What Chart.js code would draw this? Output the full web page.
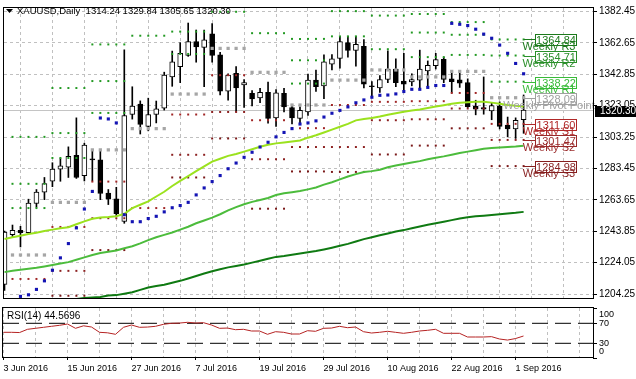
<!DOCTYPE html>
<html>
<head>
<meta charset="utf-8">
<script src="https://cdn.jsdelivr.net/npm/chart.js@4.4.1/dist/chart.umd.min.js"></script>
<style>
  html, body { margin: 0; padding: 0; background: #fff; }
  #wrap { position: relative; width: 636px; height: 379px; overflow: hidden; background: #fff; }
  canvas { position: absolute; left: 0; }
  #priceChart { top: 0; width: 636px; height: 306px; }
  #rsiChart { top: 306px; width: 636px; height: 73px; }
</style>
</head>
<body>
<div id="wrap">
  <canvas id="priceChart" width="636" height="306"></canvas>
  <canvas id="rsiChart" width="636" height="73"></canvas>
</div>
<script>
// XAUUSD daily bars, 3 Jun 2016 .. 2 Sep 2016 (one entry per trading day)
const opens = [1210.4, 1241.8, 1244.4, 1243.0, 1261.4, 1268.6, 1275.4, 1283.1, 1284.3, 1291.7,
  1279.0, 1289.2, 1288.9, 1267.9, 1264.4, 1250.1, 1317.5, 1324.1, 1310.0, 1317.5,
  1321.5, 1341.2, 1347.7, 1354.7, 1363.5, 1359.8, 1368.4, 1355.1, 1332.3, 1343.4,
  1336.2, 1330.9, 1327.9, 1331.5, 1315.4, 1330.9, 1321.9, 1315.1, 1319.1, 1339.2,
  1335.6, 1349.2, 1352.9, 1362.8, 1357.9, 1360.5, 1335.4, 1334.2, 1339.6, 1346.2,
  1338.6, 1338.0, 1339.2, 1345.0, 1348.3, 1352.3, 1340.0, 1339.4, 1337.6, 1322.9,
  1321.9, 1319.7, 1322.9, 1310.8, 1308.4, 1314.24];
const highs = [1244.0, 1247.8, 1247.0, 1264.1, 1270.2, 1277.8, 1287.1, 1289.7, 1297.1, 1315.4,
  1299.4, 1295.3, 1294.3, 1270.2, 1271.6, 1358.3, 1335.0, 1326.1, 1327.8, 1326.0,
  1344.2, 1357.5, 1362.8, 1375.2, 1370.8, 1370.8, 1374.8, 1356.7, 1343.2, 1347.7,
  1339.6, 1332.6, 1334.0, 1338.0, 1333.2, 1334.0, 1323.1, 1322.3, 1343.0, 1345.6,
  1355.1, 1355.3, 1366.8, 1366.8, 1366.8, 1364.8, 1338.2, 1342.0, 1357.7, 1352.7,
  1356.1, 1343.2, 1358.1, 1351.3, 1356.1, 1353.7, 1344.6, 1344.2, 1340.0, 1326.5,
  1341.2, 1325.0, 1325.5, 1315.9, 1315.4, 1329.84];
const lows = [1206.6, 1240.0, 1234.0, 1242.5, 1259.1, 1263.8, 1272.0, 1275.4, 1277.8, 1277.2,
  1275.6, 1275.6, 1263.8, 1260.7, 1253.1, 1248.9, 1314.6, 1305.2, 1307.2, 1312.2,
  1320.3, 1335.3, 1337.6, 1354.2, 1350.5, 1335.0, 1350.5, 1329.9, 1326.5, 1319.5,
  1321.9, 1322.9, 1325.0, 1312.1, 1310.0, 1319.1, 1311.5, 1312.1, 1316.9, 1332.0,
  1327.5, 1345.6, 1346.8, 1353.7, 1348.0, 1334.2, 1329.0, 1331.5, 1337.6, 1335.0,
  1332.0, 1335.6, 1334.0, 1334.6, 1346.2, 1337.6, 1331.1, 1334.6, 1321.9, 1317.3,
  1317.7, 1314.2, 1308.4, 1303.4, 1302.4, 1305.65];
const closes = [1243.4, 1244.4, 1243.0, 1261.7, 1268.6, 1274.0, 1283.1, 1285.1, 1291.1, 1277.8,
  1298.3, 1288.9, 1267.7, 1264.1, 1254.9, 1316.9, 1322.9, 1311.2, 1317.5, 1321.1,
  1342.4, 1350.7, 1356.1, 1363.5, 1360.1, 1364.6, 1354.7, 1332.3, 1342.4, 1334.2,
  1337.6, 1327.3, 1331.5, 1315.1, 1331.1, 1322.3, 1315.4, 1320.1, 1339.2, 1335.0,
  1350.7, 1352.7, 1363.5, 1357.9, 1361.7, 1336.6, 1335.0, 1339.6, 1346.1, 1337.6,
  1336.6, 1339.6, 1346.1, 1348.5, 1352.1, 1339.6, 1338.2, 1337.2, 1322.5, 1320.9,
  1320.9, 1323.1, 1310.0, 1308.4, 1313.8, 1320.30];

// moving averages
const maFast = [1239.0, 1240.1, 1241.1, 1242.2, 1243.0, 1244.0, 1244.9, 1245.8, 1246.4, 1248.3,
  1250.1, 1251.7, 1252.5, 1252.8, 1253.4, 1254.9, 1258.5, 1260.6, 1262.7, 1265.8,
  1268.8, 1272.4, 1275.7, 1278.7, 1281.8, 1284.8, 1287.8, 1289.6, 1291.4, 1292.6,
  1294.1, 1295.6, 1297.2, 1298.4, 1299.3, 1299.9, 1300.5, 1301.1, 1302.9, 1304.4,
  1306.2, 1308.0, 1309.8, 1311.6, 1313.8, 1314.7, 1315.3, 1316.2, 1317.4, 1318.3,
  1319.2, 1320.1, 1320.7, 1321.6, 1322.5, 1323.4, 1324.3, 1324.9, 1325.2, 1325.5,
  1325.5, 1325.0, 1324.3, 1323.5, 1323.1, 1322.5];
const maMid = [1218.1, 1219.0, 1219.6, 1220.2, 1220.8, 1221.7, 1222.6, 1223.5, 1224.4, 1225.9,
  1227.4, 1228.9, 1230.1, 1230.9, 1231.7, 1233.2, 1234.4, 1236.2, 1238.3, 1240.1,
  1241.6, 1243.1, 1244.9, 1246.7, 1248.9, 1250.7, 1252.5, 1254.6, 1257.0, 1259.1,
  1260.9, 1262.4, 1263.6, 1264.9, 1266.7, 1267.9, 1268.5, 1269.2, 1270.3, 1271.5,
  1273.3, 1274.8, 1276.6, 1278.4, 1279.9, 1281.2, 1281.8, 1282.7, 1284.2, 1285.4,
  1286.3, 1287.2, 1288.1, 1289.3, 1290.3, 1291.1, 1292.1, 1293.2, 1294.1, 1295.0,
  1295.9, 1296.4, 1296.7, 1297.0, 1297.3, 1297.8];
const maSlow = [1191.5, 1192.7, 1193.9, 1195.1, 1196.3, 1197.5, 1198.7, 1199.7, 1200.6, 1201.2,
  1201.8, 1202.1, 1202.4, 1203.3, 1203.6, 1204.5, 1205.4, 1206.9, 1208.4, 1209.3,
  1210.2, 1211.4, 1212.6, 1214.1, 1215.7, 1217.2, 1218.7, 1219.9, 1221.1, 1222.0,
  1222.9, 1224.1, 1225.3, 1226.5, 1227.7, 1228.3, 1229.1, 1229.8, 1230.6, 1231.4,
  1232.4, 1233.5, 1234.7, 1235.9, 1237.4, 1238.9, 1240.1, 1241.3, 1242.5, 1243.7,
  1244.6, 1245.8, 1246.9, 1248.0, 1248.9, 1249.9, 1250.9, 1251.9, 1252.7, 1253.3,
  1253.7, 1254.2, 1254.6, 1255.1, 1255.5, 1256.1];

// parabolic SAR
const sar = [null, null, 1202.8, 1203.8, 1207.2, 1212.6, 1219.3, 1227.1, 1236.1, 1246.0,
  1257.9, 1269.0, 1315.3, 1314.7, 1312.2, 1254.3, 1249.9, 1249.9, 1251.9, 1253.3,
  1256.1, 1258.7, 1260.1, 1262.1, 1266.8, 1271.2, 1275.2, 1279.0, 1283.3, 1286.9,
  1290.5, 1293.7, 1297.0, 1300.0, 1303.4, 1306.2, 1308.6, 1311.5, 1312.2, 1313.5,
  1315.9, 1318.3, 1320.1, 1322.3, 1324.9, 1326.7, 1328.4, 1329.6, 1329.8, 1330.5,
  1332.0, 1333.4, 1333.4, 1334.6, 1335.8, 1335.8, 1375.0, 1374.4, 1373.6, 1371.3,
  1368.2, 1365.6, 1361.3, 1356.1, 1349.7, 1343.2];

// RSI(14)
const rsi = [52, 52, 51.5, 58, 60, 62, 64, 66, 68.6, 60,
  65, 62.6, 52, 51, 48, 62, 66.6, 62, 62.5, 64,
  68, 70, 70.5, 72, 70.6, 71.2, 66.6, 60, 60.5, 57.2,
  58, 54.6, 54.6, 48, 53.2, 52, 48.6, 48.6, 55.2, 54,
  60, 60.5, 64, 61.2, 62.6, 53.2, 50.6, 52, 54, 52,
  50, 52, 54.6, 56, 58, 50, 50, 50, 42.6, 42.6,
  42.6, 43.3, 38.6, 36.5, 39.5, 44.5696];
const rsiLevels = [70, 30];
const rsiAxisLabels = [100, 70, 30, 0];

// weekly pivot levels, one value per week (first bar of each week in weekStarts)
const weekStarts = [1, 6, 11, 16, 21, 26, 31, 36, 41, 46, 51, 56, 61];
const pivotPP = [1228.9, 1262.1, 1295.2, 1308.6, 1330.4, 1359.2, 1344.1, 1323.5, 1339.2, 1345.6, 1341.2, 1344.7, 1328.09];
const pivotR1 = [1258.5, 1290.1, 1318.5, 1367.2, 1355.7, 1382.3, 1368.8, 1337.0, 1366.8, 1358.7, 1353.7, 1355.1, 1338.22];
const pivotR2 = [1273.8, 1305.8, 1338.6, null, 1369.8, null, null, 1351.7, 1382.7, 1379.9, 1369.2, 1367.8, 1354.71];
const pivotR3 = [1303.4, 1334.2, 1361.7, null, null, null, null, 1365.2, null, null, 1380.9, 1375.8, 1364.84];
const pivotS1 = [1213.8, 1246.6, 1275.2, 1258.5, 1317.5, 1342.3, 1313.9, 1308.9, 1323.5, 1325.5, 1325.9, 1331.1, 1311.60];
const pivotS2 = [null, 1218.9, 1252.1, null, 1292.1, 1319.1, 1289.3, 1297.0, 1297.0, 1313.9, 1314.5, 1321.3, 1301.47];
const pivotS3 = [null, 1203.2, 1232.0, null, 1277.8, 1302.4, 1258.1, 1281.6, 1281.3, 1292.3, 1297.9, 1308.8, 1284.98];

const priceTicks = [1204.25, 1224.05, 1243.85, 1263.65, 1283.45, 1303.25, 1323.05, 1342.85, 1362.65, 1382.45];
const gridBars = [0, 4, 8, 12, 16, 20, 24, 28, 32, 36, 40, 44, 48, 52, 56, 60, 64, 68, 72];
const dateTickBars = [0, 8, 16, 24, 32, 40, 48, 56, 64];
const dateTickLabels = ["3 Jun 2016", "15 Jun 2016", "27 Jun 2016", "7 Jul 2016", "19 Jul 2016",
  "29 Jul 2016", "10 Aug 2016", "22 Aug 2016", "1 Sep 2016"];

const FONT = "'Liberation Sans', Arial, sans-serif";
Chart.defaults.font.family = FONT;

const xMin = -0.0625, xMax = 73.6875;
const gridColor = "#c0c0c0";
const last = closes.length - 1;

const pivotStyles = [
  { name: "Weekly R3", values: pivotR3, dot: "#229922", label: "#1c7a1c" },
  { name: "Weekly R2", values: pivotR2, dot: "#229922", label: "#2a8f2a" },
  { name: "Weekly R1", values: pivotR1, dot: "#229922", label: "#39bb39" },
  { name: "Weekly Pivot Point", values: pivotPP, dot: "#a6a6a6", label: "#a0a0a0" },
  { name: "Weekly S1", values: pivotS1, dot: "#a02525", label: "#b02828" },
  { name: "Weekly S2", values: pivotS2, dot: "#8c2020", label: "#9a2a2a" },
  { name: "Weekly S3", values: pivotS3, dot: "#7a1818", label: "#861e1e" }
];

function weeklySeries(levels) {
  const pts = [];
  weekStarts.forEach((start, w) => {
    if (levels[w] == null) return;
    for (let i = start; i < start + 5 && i < closes.length; i++) pts.push({ x: i, y: levels[w] });
  });
  return pts;
}

const pivotDatasets = pivotStyles.map(p => ({
  type: "line",
  data: weeklySeries(p.values),
  showLine: false,
  pointStyle: "rect",
  pointRadius: p.name === "Weekly Pivot Point" ? 2.3 : 1.4,
  backgroundColor: p.dot,
  borderColor: p.dot,
  borderWidth: 0,
  order: 5
}));

function maDataset(values, color) {
  return {
    type: "line",
    data: values.map((v, i) => ({ x: i, y: v })),
    borderColor: color,
    borderWidth: 2,
    pointRadius: 0,
    tension: 0,
    order: 3
  };
}

const mainDecor = {
  id: "mainDecor",
  beforeDatasetsDraw(chart) {
    const { ctx, chartArea: a, scales: { y } } = chart;
    const yy = Math.round(y.getPixelForValue(closes[last])) + 0.5;
    ctx.save();
    ctx.strokeStyle = "#c4c4c4";
    ctx.lineWidth = 1;
    ctx.beginPath();
    ctx.moveTo(a.left, yy);
    ctx.lineTo(a.right, yy);
    ctx.stroke();
    ctx.restore();
  },
  afterDatasetsDraw(chart) {
    const { ctx, scales: { x, y } } = chart;
    const lx = Math.round(x.getPixelForValue(last));
    ctx.save();
    pivotStyles.forEach(p => {
      const v = p.values[p.values.length - 1];
      const yy = Math.round(y.getPixelForValue(v)) + 0.5;
      ctx.strokeStyle = p.label;
      ctx.lineWidth = 1;
      ctx.beginPath();
      ctx.moveTo(lx, yy);
      ctx.lineTo(lx + 11, yy);
      ctx.stroke();
      ctx.fillStyle = "#fff";
      ctx.fillRect(lx + 11, yy - 5.5, 42, 11);
      ctx.strokeRect(lx + 11.5, yy - 5, 41, 11);
      ctx.fillStyle = p.label;
      ctx.font = "11px " + FONT;
      ctx.textAlign = "center";
      ctx.textBaseline = "middle";
      ctx.fillText(v.toFixed(2), lx + 32, yy + 1);
      ctx.textBaseline = "alphabetic";
      ctx.fillText(p.name, lx + 25, yy + 10);
    });
    ctx.restore();
  },
  afterDraw(chart) {
    const { ctx, chartArea: a, scales: { y } } = chart;
    ctx.save();
    ctx.strokeStyle = "#000";
    ctx.lineWidth = 1;
    ctx.strokeRect(a.left - 0.5, a.top - 0.5, a.right - a.left + 1, a.bottom - a.top + 1);
    // title
    ctx.fillStyle = "#000";
    ctx.beginPath();
    ctx.moveTo(6, 9);
    ctx.lineTo(13, 9);
    ctx.lineTo(9.5, 13);
    ctx.closePath();
    ctx.fill();
    ctx.font = "9.5px " + FONT;
    ctx.textAlign = "left";
    ctx.textBaseline = "middle";
    ctx.fillText("XAUUSD,Daily  " + [opens[last], highs[last], lows[last], closes[last]].map(v => v.toFixed(2)).join(" "), 17, 11);
    // bid tag
    const yy = Math.round(y.getPixelForValue(closes[last]));
    ctx.fillStyle = "#000";
    ctx.fillRect(595, yy - 4, 41, 11);
    ctx.fillStyle = "#fff";
    ctx.font = "10px " + FONT;
    ctx.fillText(closes[last].toFixed(2), 600, yy + 1.5);
    ctx.restore();
  }
};

new Chart(document.getElementById("priceChart"), {
  type: "bar",
  data: {
    datasets: [
      {
        type: "line",
        data: sar.map((v, i) => ({ x: i, y: v })),
        showLine: false,
        pointStyle: "rect",
        pointRadius: 2.2,
        backgroundColor: "#1414b4",
        borderWidth: 0,
        order: 1
      },
      maDataset(maFast, "#9be21e"),
      maDataset(maMid, "#4cbc3c"),
      maDataset(maSlow, "#0f7a12"),
      ...pivotDatasets,
      {
        type: "bar",
        data: closes.map((c, i) => ({ x: i, y: [opens[i], c] })),
        backgroundColor: closes.map((c, i) => (c >= opens[i] ? "#ffffff" : "#000000")),
        borderColor: "#000",
        borderWidth: 1,
        borderSkipped: false,
        barThickness: 5,
        minBarLength: 1,
        grouped: false,
        order: 10
      },
      {
        type: "bar",
        data: closes.map((c, i) => ({ x: i, y: [lows[i], highs[i]] })),
        backgroundColor: "#000",
        barThickness: 1,
        grouped: false,
        order: 11
      }
    ]
  },
  options: {
    responsive: false,
    animation: false,
    devicePixelRatio: 1,
    events: [],
    layout: { padding: { left: 3, top: 2, right: 0, bottom: 1 } },
    plugins: { legend: { display: false }, tooltip: { enabled: false } },
    scales: {
      x: {
        type: "linear",
        min: xMin,
        max: xMax,
        offset: false,
        afterBuildTicks: s => { s.ticks = gridBars.map(v => ({ value: v })); },
        afterFit: s => { s.height = 0; },
        ticks: { display: false },
        grid: { color: gridColor, drawTicks: false },
        border: { display: false, dash: [3, 3] }
      },
      y: {
        position: "right",
        min: 1201.78,
        max: 1384.68,
        afterBuildTicks: s => { s.ticks = priceTicks.map(v => ({ value: v })); },
        afterFit: s => { s.width = 43; },
        ticks: { color: "#000", font: { size: 10 }, padding: 2, autoSkip: false, callback: v => v.toFixed(2) },
        grid: { color: gridColor, tickColor: "#000", tickLength: 4 },
        border: { display: false, dash: [3, 3] }
      }
    }
  },
  plugins: [mainDecor]
});

const rsiDecor = {
  id: "rsiDecor",
  afterDraw(chart) {
    const { ctx, chartArea: a, scales: { y } } = chart;
    ctx.save();
    ctx.strokeStyle = "#000";
    ctx.lineWidth = 1;
    ctx.strokeRect(a.left - 0.5, a.top - 0.5, a.right - a.left + 1, a.bottom - a.top + 1);
    ctx.fillStyle = "#000";
    ctx.font = "9px " + FONT;
    ctx.textAlign = "left";
    ctx.textBaseline = "middle";
    rsiAxisLabels.forEach(v => {
      let yy = y.getPixelForValue(v);
      ctx.beginPath();
      ctx.moveTo(a.right, Math.round(yy) + 0.5);
      ctx.lineTo(a.right + 4, Math.round(yy) + 0.5);
      ctx.stroke();
      if (v === 100) yy += 6;
      if (v === 0) yy -= 6.5;
      ctx.fillText(String(v), 599, yy);
    });
    ctx.font = "10px " + FONT;
    ctx.fillText("RSI(14) " + rsi[last].toFixed(4), 7, 10.5);
    ctx.restore();
  }
};

new Chart(document.getElementById("rsiChart"), {
  type: "line",
  data: {
    datasets: [
      {
        data: rsi.map((v, i) => ({ x: i, y: v })),
        borderColor: "#b52222",
        borderWidth: 1,
        pointRadius: 0,
        order: 1
      },
      ...rsiLevels.map(l => ({
        data: [{ x: xMin, y: l }, { x: xMax, y: l }],
        borderColor: "#000",
        borderWidth: 1,
        borderDash: [16, 7],
        pointRadius: 0,
        order: 2
      }))
    ]
  },
  options: {
    responsive: false,
    animation: false,
    devicePixelRatio: 1,
    events: [],
    layout: { padding: { left: 3, top: 2, right: 0, bottom: 0 } },
    plugins: { legend: { display: false }, tooltip: { enabled: false } },
    scales: {
      x: {
        type: "linear",
        min: xMin,
        max: xMax,
        offset: false,
        afterBuildTicks: s => { s.ticks = gridBars.map(v => ({ value: v })); },
        afterFit: s => { s.height = 22; },
        ticks: {
          autoSkip: false,
          maxRotation: 0,
          align: "start",
          color: "#000",
          font: { size: 9 },
          padding: 3,
          callback: v => {
            const k = dateTickBars.indexOf(v);
            return k >= 0 ? dateTickLabels[k] : "";
          }
        },
        grid: {
          color: gridColor,
          tickLength: 3,
          tickColor: c => (c.tick && dateTickBars.includes(c.tick.value) ? "#000" : "rgba(0,0,0,0)")
        },
        border: { display: false, dash: [3, 3] }
      },
      y: {
        position: "right",
        min: 2.6,
        max: 100.6,
        afterFit: s => { s.width = 43; },
        ticks: { display: false },
        grid: { display: false },
        border: { display: false }
      }
    }
  },
  plugins: [rsiDecor]
});
</script>
</body>
</html>
